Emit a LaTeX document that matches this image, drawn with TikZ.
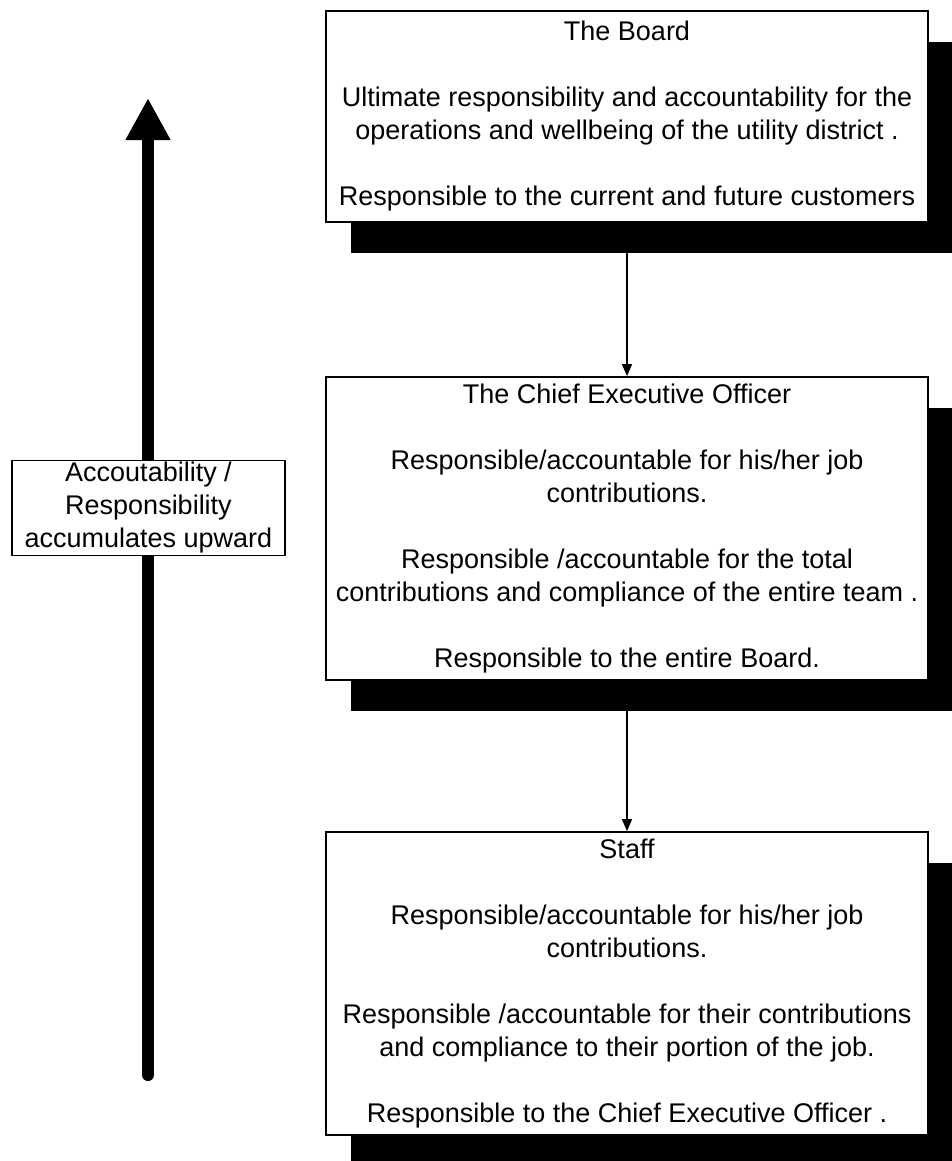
\documentclass[tikz,border=0pt]{standalone}
\usepackage{fontspec}
\setmainfont{Liberation Sans}
\usetikzlibrary{arrows.meta,shadows}

\tikzset{
  level/.style={draw, line width=0.9pt, fill=white, align=center,
    minimum width=301pt, inner sep=2pt,
    drop shadow={shadow xshift=12.5pt, shadow yshift=-15.5pt, fill=black, opacity=1},
    font=\fontsize{13.5}{16.5}\selectfont},
  tag/.style={draw, line width=0.7pt, fill=white, align=center,
    minimum width=136.5pt, minimum height=47pt, inner sep=1pt,
    font=\fontsize{13.5}{16.5}\selectfont},
  flow/.style={-{Triangle[width=5pt,length=6pt]}, line width=0.7pt},
  rise/.style={-{Triangle[width=21pt,length=21pt]}, line width=6pt, line cap=round},
}

\begin{document}
\begin{tikzpicture}[x=0.5pt, y=-0.5pt]
    \useasboundingbox (0,0) rectangle (952,1161);
    \coordinate (low) at (148,1075);
    \coordinate (high) at (148,98);
    \draw[rise] (low) -- (high);
    \node[tag] (note) at (148.5,508) {Accoutability /\\Responsibility\\accumulates upward};

    \node[level, minimum height=105.5pt] (board) at (627,116.5)
      {The Board\\[16.5pt]
       Ultimate responsibility and accountability for the\\
       operations and wellbeing of the utility district .\\[16.5pt]
       Responsible to the current and future customers};
    \node[level, minimum height=151.5pt] (ceo) at (627,528.5)
      {The Chief Executive Officer\\[16.5pt]
       Responsible/accountable for his/her job\\
       contributions.\\[16.5pt]
       Responsible /accountable for the total\\
       contributions and compliance of the entire team .\\[16.5pt]
       Responsible to the entire Board.};
    \node[level, minimum height=151.5pt] (staff) at (627,983.5)
      {Staff\\[16.5pt]
       Responsible/accountable for his/her job\\
       contributions.\\[16.5pt]
       Responsible /accountable for their contributions\\
       and compliance to their portion of the job.\\[16.5pt]
       Responsible to the Chief Executive Officer .};

    \draw[flow] (board) -- (ceo);
    \draw[flow] (ceo) -- (staff);
\end{tikzpicture}
\end{document}
